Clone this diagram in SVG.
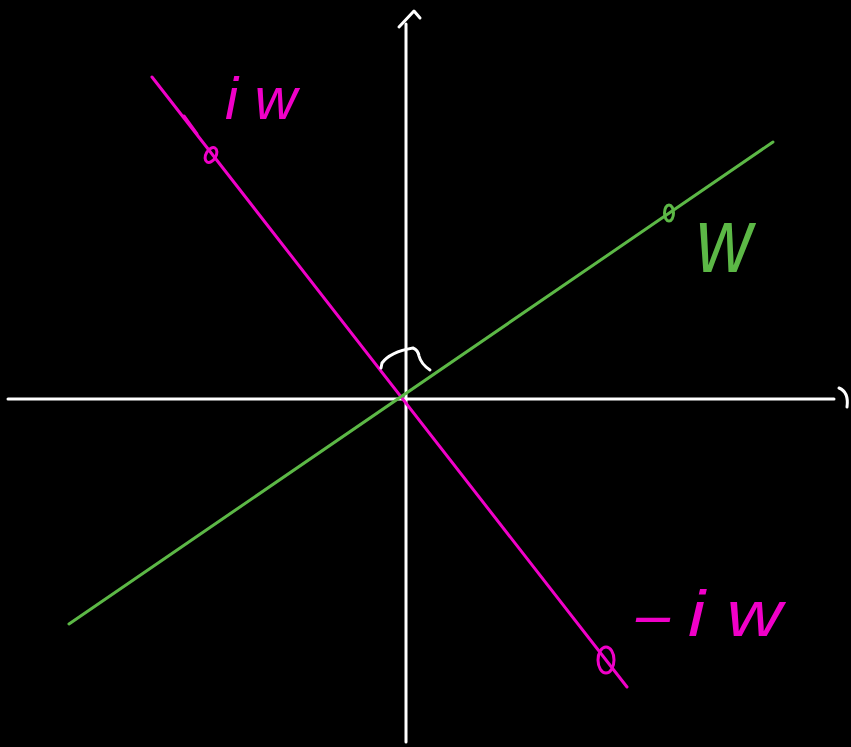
<svg xmlns="http://www.w3.org/2000/svg" width="851" height="747" viewBox="0 0 851 747">
<style>
.ax{stroke:#ffffff;stroke-width:3;fill:none;stroke-linecap:round;stroke-linejoin:round}
.mg{stroke:#f000c8;stroke-width:3;fill:none;stroke-linecap:round}
.gr{stroke:#5cb846;stroke-width:3;fill:none;stroke-linecap:round}
.lm{fill:#f000c8;font-family:"Liberation Sans",sans-serif;font-style:italic}
.lg{fill:#5cb846;font-family:"Liberation Sans",sans-serif;font-style:italic}
</style>
<rect width="851" height="747" fill="#000000"/>
<g id="axes">
<line class="ax" x1="8" y1="399" x2="834" y2="399"/>
<path class="ax" d="M839 388 Q849 392 847 407"/>
<line class="ax" x1="406" y1="742" x2="406" y2="24"/>
<path class="ax" d="M399 27 L414 11 L420 18"/>
</g>
<g id="lines">
<line class="mg" x1="152" y1="77" x2="627" y2="687"/>
<line class="gr" x1="69" y1="624" x2="773" y2="142"/>
<path class="ax" d="M381 368 L382 363 Q390 352 413 348 Q418 350 419 356 Q421 364 430 370"/>
</g>
<g id="iw">
<path class="mg" stroke-width="5" d="M184 116 L197 134"/>
<ellipse class="mg" cx="211" cy="155" rx="5" ry="8" transform="rotate(30 211 155)"/>
<text class="lm" x="225" y="119" font-size="60" textLength="72" lengthAdjust="spacingAndGlyphs">i w</text>
</g>
<g id="w">
<ellipse class="gr" cx="669" cy="213" rx="4.5" ry="8"/>
<text class="lg" x="696" y="272" font-size="92" textLength="56" lengthAdjust="spacingAndGlyphs">w</text>
</g>
<g id="minus-iw">
<ellipse class="mg" cx="606" cy="660" rx="8" ry="13"/>
<text class="lm" x="636" y="636" font-size="64" textLength="34" lengthAdjust="spacingAndGlyphs">–</text>
<text class="lm" x="688" y="636" font-size="64" textLength="94" lengthAdjust="spacingAndGlyphs">i w</text>
</g>
</svg>
